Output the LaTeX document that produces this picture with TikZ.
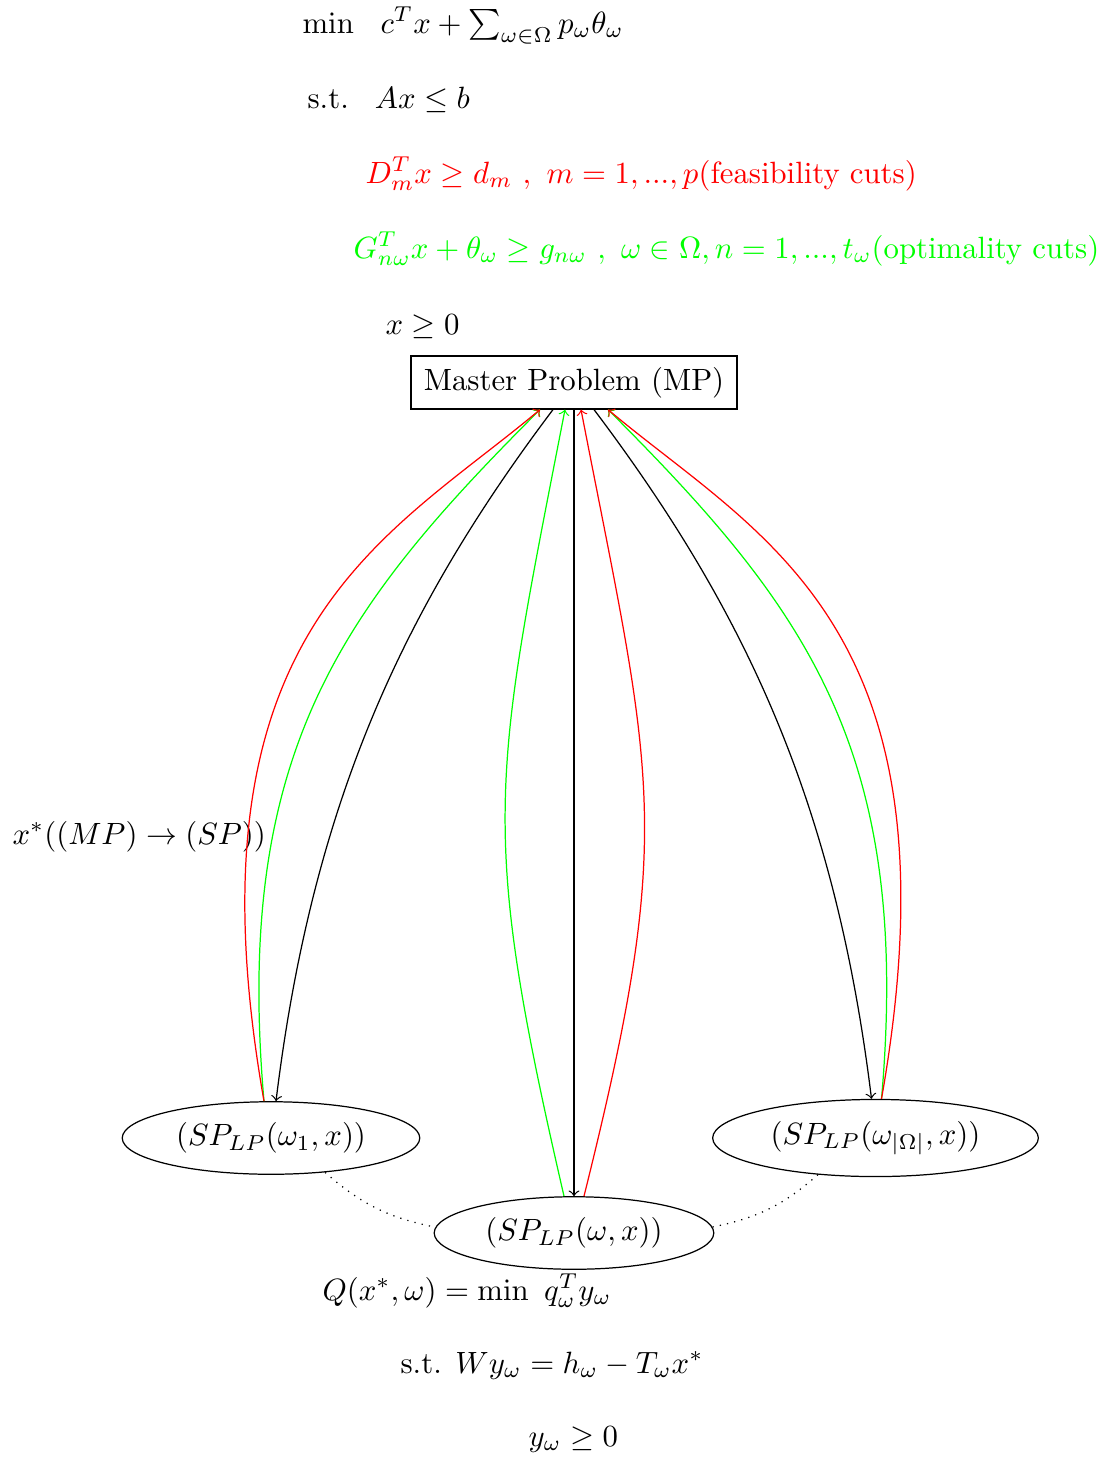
\documentclass[tikz,border=0pt]{standalone}
\usetikzlibrary{shapes.geometric,calc}
\begin{document}
\begin{tikzpicture}[x=0.325pt,y=0.325pt,
  lbl/.style={inner sep=0pt, anchor=base west},
  mpbox/.style={draw, rectangle, minimum width=106pt, minimum height=17.2pt},
  subprob/.style={draw, ellipse},
  flow/.style={->},
  link/.style={dotted}]
\useasboundingbox (0,0) rectangle (1107,-1459);

% master problem formulation
\node[lbl] (obj) at (302,-33) {$\min\hspace{7pt}c^Tx+\sum_{\omega\in\Omega}p_\omega\theta_\omega$};
\node[lbl] (con) at (307,-108) {s.t.\hspace{8.5pt}$Ax\leq b$};
\node[lbl,text=red] (feas) at (365,-183) {$D_m^Tx\geq d_m\ ,\ m=1,...,p$(feasibility cuts)};
\node[lbl,text=green] (opt) at (353,-258) {$G_{n\omega}^Tx+\theta_\omega\geq g_{n\omega}\ ,\ \omega\in\Omega, n=1,...,t_\omega$(optimality cuts)};
\node[lbl] (nonneg) at (385,-334) {$x\geq 0$};

\node[mpbox] (mp) at (574,-382.5) {Master Problem (MP)};

% subproblems
\node[subprob] (sp1) at (271,-1138) {$(SP_{LP}(\omega_1,x))$};
\node[subprob] (sp) at (574,-1233) {$(SP_{LP}(\omega,x))$};
\node[subprob] (spn) at (875.5,-1138) {$(SP_{LP}(\omega_{|\Omega|},x))$};

\draw[link] (sp1) to[bend right=15] (sp);
\draw[link] (sp) to[bend right=15] (spn);

\node[lbl] (xstar) at (12,-844) {$x^*((MP)\rightarrow(SP))$};

% subproblem formulation
\node[lbl] (qval) at (322,-1300) {$Q(x^*,\omega)=\min\ q_\omega^Ty_\omega$};
\node[lbl] (qcon) at (400,-1373) {s.t. $Wy_\omega=h_\omega-T_\omega x^*$};
\node[lbl] (qnn) at (528,-1446) {$y_\omega\geq 0$};

% left subproblem
\draw[flow] ($(mp.south)+(-21,0)$) .. controls +(233:250) and +(83:300) .. ($(sp1.north)+(5,0)$);
\draw[flow,green] ($(sp1.north)+(-7,0)$) .. controls +(95:350) and +(225:280) .. ($(mp.south)+(-34,0)$);
\draw[flow,red] ($(sp1.north)+(-7,0)$) .. controls +(100:480) and +(220:200) .. ($(mp.south)+(-34,0)$);

% middle subproblem
\draw[flow,green] ($(sp.north)+(-10,0)$) .. controls +(103:380) and +(259:380) .. ($(mp.south)+(-9,0)$);
\draw[flow] (mp.south) -- (sp.north);
\draw[flow,red] ($(sp.north)+(10,0)$) .. controls +(76:380) and +(281:380) .. ($(mp.south)+(7,0)$);

% right subproblem
\draw[flow] ($(mp.south)+(20,0)$) .. controls +(307:250) and +(97:300) .. ($(spn.north)+(-4,0)$);
\draw[flow,green] ($(spn.north)+(6,0)$) .. controls +(85:350) and +(315:280) .. ($(mp.south)+(34,0)$);
\draw[flow,red] ($(spn.north)+(6,0)$) .. controls +(80:480) and +(320:200) .. ($(mp.south)+(34,0)$);
\end{tikzpicture}
\end{document}
